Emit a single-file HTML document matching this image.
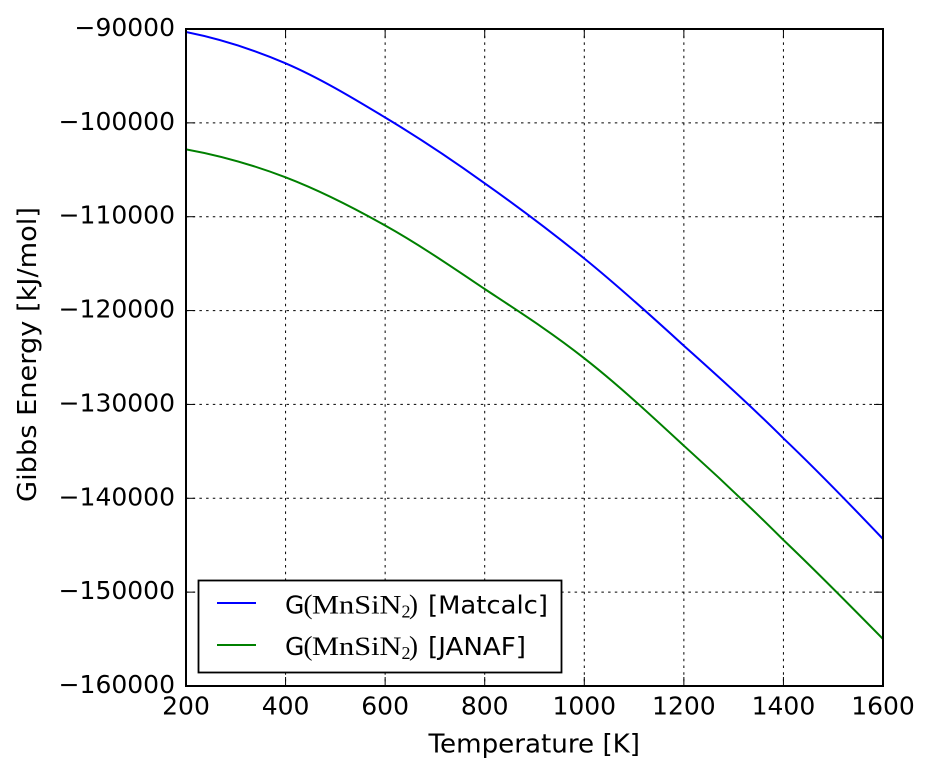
<!DOCTYPE html>
<html>
<head>
<meta charset="utf-8">
<style>
  html, body { margin: 0; padding: 0; background: #ffffff; }
  svg { display: block; }
  .tick { font-family: "DejaVu Sans", "Liberation Sans", sans-serif; font-size: 25px; fill: #000; }
  .lbl { font-family: "DejaVu Sans", "Liberation Sans", sans-serif; font-size: 26px; fill: #000; }
  .ser { font-family: "Liberation Serif", "DejaVu Serif", serif; fill: #000; }
</style>
</head>
<body>
<svg width="933" height="774" viewBox="0 0 933 774" xmlns="http://www.w3.org/2000/svg">
  <rect x="0" y="0" width="933" height="774" fill="#ffffff"/>
  <defs>
    <clipPath id="plot"><rect x="186" y="29" width="697" height="657"/></clipPath>
  </defs>

  <!-- grid -->
  <g stroke="#000" stroke-width="1" stroke-dasharray="2.5 4.2" fill="none">
    <line x1="285.57" y1="29" x2="285.57" y2="686"/>
    <line x1="385.14" y1="29" x2="385.14" y2="686"/>
    <line x1="484.71" y1="29" x2="484.71" y2="686"/>
    <line x1="584.29" y1="29" x2="584.29" y2="686"/>
    <line x1="683.86" y1="29" x2="683.86" y2="686"/>
    <line x1="783.43" y1="29" x2="783.43" y2="686"/>
    <line x1="186" y1="122.86" x2="883" y2="122.86"/>
    <line x1="186" y1="216.71" x2="883" y2="216.71"/>
    <line x1="186" y1="310.57" x2="883" y2="310.57"/>
    <line x1="186" y1="404.43" x2="883" y2="404.43"/>
    <line x1="186" y1="498.29" x2="883" y2="498.29"/>
    <line x1="186" y1="592.14" x2="883" y2="592.14"/>
  </g>

  <!-- series -->
  <g clip-path="url(#plot)" fill="none" stroke-width="2" stroke-linejoin="round">
    <path stroke="#0000ff" d="M186,32 C219.2,38.6 252.3,49.05 285.57,63.3 C318.7,77.55 352.1,97.5 385.14,117.5 C418.5,137.5 451.8,159.7 484.71,183.3 C518.2,206.9 551.3,231.9 584.29,258.5 C617.7,285.6 651.1,315.8 683.86,345.7 C717.5,375.6 751.1,406.1 783.43,438.3 C817.3,470.5 849.8,504.1 883,539"/>
    <path stroke="#008000" d="M186,149.3 C219.2,155.3 252.3,164.6 285.57,177.3 C318.7,190 352.1,206.9 385.14,225.5 C418.5,244.1 451.8,266.9 484.71,289 C518.2,311.1 551.3,332.2 584.29,358.3 C617.7,384.4 651.1,415.4 683.86,445.7 C717.5,476 751.1,507.8 783.43,540 C817.3,572.2 849.8,605.2 883,639"/>
  </g>

  <!-- ticks -->
  <g stroke="#000" stroke-width="1">
    <line x1="285.57" y1="686" x2="285.57" y2="677"/><line x1="285.57" y1="29" x2="285.57" y2="38"/>
    <line x1="385.14" y1="686" x2="385.14" y2="677"/><line x1="385.14" y1="29" x2="385.14" y2="38"/>
    <line x1="484.71" y1="686" x2="484.71" y2="677"/><line x1="484.71" y1="29" x2="484.71" y2="38"/>
    <line x1="584.29" y1="686" x2="584.29" y2="677"/><line x1="584.29" y1="29" x2="584.29" y2="38"/>
    <line x1="683.86" y1="686" x2="683.86" y2="677"/><line x1="683.86" y1="29" x2="683.86" y2="38"/>
    <line x1="783.43" y1="686" x2="783.43" y2="677"/><line x1="783.43" y1="29" x2="783.43" y2="38"/>
    <line x1="186" y1="122.86" x2="195" y2="122.86"/><line x1="883" y1="122.86" x2="874" y2="122.86"/>
    <line x1="186" y1="216.71" x2="195" y2="216.71"/><line x1="883" y1="216.71" x2="874" y2="216.71"/>
    <line x1="186" y1="310.57" x2="195" y2="310.57"/><line x1="883" y1="310.57" x2="874" y2="310.57"/>
    <line x1="186" y1="404.43" x2="195" y2="404.43"/><line x1="883" y1="404.43" x2="874" y2="404.43"/>
    <line x1="186" y1="498.29" x2="195" y2="498.29"/><line x1="883" y1="498.29" x2="874" y2="498.29"/>
    <line x1="186" y1="592.14" x2="195" y2="592.14"/><line x1="883" y1="592.14" x2="874" y2="592.14"/>
  </g>

  <!-- frame -->
  <rect x="186" y="29" width="697" height="657" fill="none" stroke="#000" stroke-width="2"/>

  <!-- legend -->
  <rect x="198.5" y="580.5" width="363" height="92" fill="#ffffff" stroke="#000" stroke-width="1.8"/>
  <line x1="217" y1="603" x2="256" y2="603" stroke="#0000ff" stroke-width="2"/>
  <line x1="217" y1="645" x2="256" y2="645" stroke="#008000" stroke-width="2"/>

  <text class="tick" x="285" y="613.3">G</text>
  <text class="ser" x="303.5" y="613.3" font-size="27">(</text>
  <text class="ser" x="312" y="613.3" font-size="26" textLength="89.5" lengthAdjust="spacingAndGlyphs">MnSiN</text>
  <text class="ser" x="401.5" y="617.5" font-size="18">2</text>
  <text class="ser" x="409" y="613.3" font-size="27">)</text>
  <text class="tick" x="428" y="613.3" textLength="120" lengthAdjust="spacingAndGlyphs">[Matcalc]</text>

  <text class="tick" x="285" y="655">G</text>
  <text class="ser" x="303.5" y="655" font-size="27">(</text>
  <text class="ser" x="312" y="655" font-size="26" textLength="89.5" lengthAdjust="spacingAndGlyphs">MnSiN</text>
  <text class="ser" x="401.5" y="659.2" font-size="18">2</text>
  <text class="ser" x="409" y="655" font-size="27">)</text>
  <text class="tick" x="428" y="655" textLength="98" lengthAdjust="spacingAndGlyphs">[JANAF]</text>

  <!-- y tick labels -->
  <g class="tick" text-anchor="end">
    <text x="175" y="36">−90000</text>
    <text x="175" y="129.9">−100000</text>
    <text x="175" y="223.7">−110000</text>
    <text x="175" y="317.6">−120000</text>
    <text x="175" y="411.4">−130000</text>
    <text x="175" y="505.3">−140000</text>
    <text x="175" y="599.1">−150000</text>
    <text x="175" y="693">−160000</text>
  </g>

  <!-- x tick labels -->
  <g class="tick" text-anchor="middle">
    <text x="186" y="714.5">200</text>
    <text x="285.57" y="714.5">400</text>
    <text x="385.14" y="714.5">600</text>
    <text x="484.71" y="714.5">800</text>
    <text x="584.29" y="714.5">1000</text>
    <text x="683.86" y="714.5">1200</text>
    <text x="783.43" y="714.5">1400</text>
    <text x="883" y="714.5">1600</text>
  </g>

  <!-- axis labels -->
  <text class="lbl" x="428.5" y="752.7" textLength="211.5" lengthAdjust="spacingAndGlyphs">Temperature [K]</text>
  <text class="lbl" transform="translate(36,502) rotate(-90)" x="0" y="0" textLength="295" lengthAdjust="spacingAndGlyphs">Gibbs Energy [kJ/mol]</text>
</svg>
</body>
</html>
